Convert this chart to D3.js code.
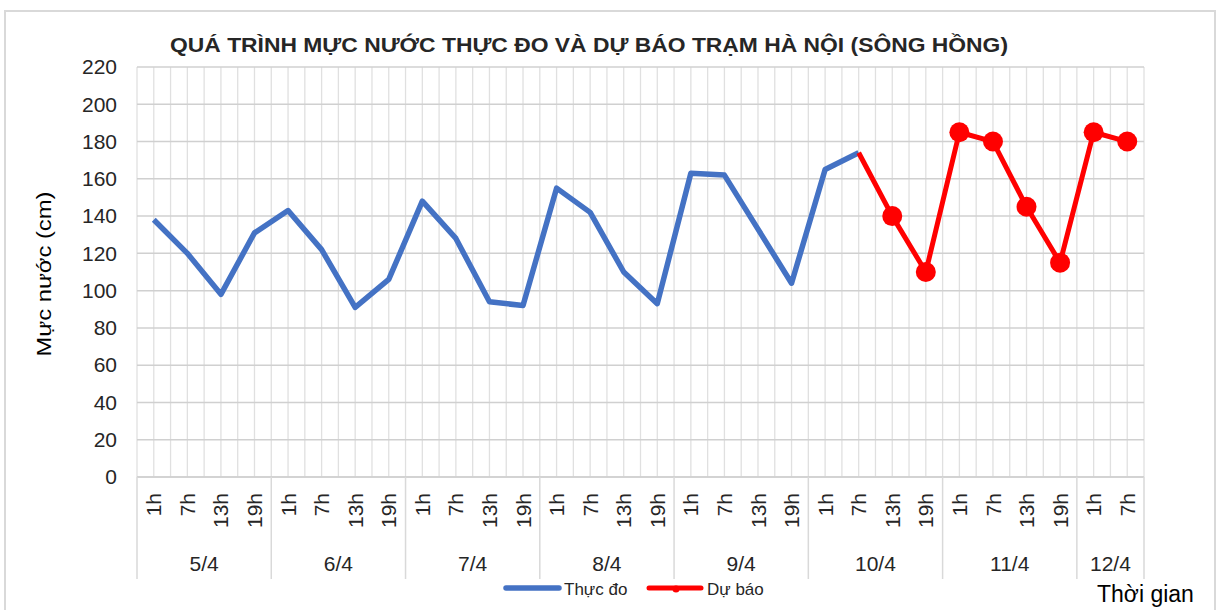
<!DOCTYPE html>
<html><head><meta charset="utf-8">
<script src="https://cdn.jsdelivr.net/npm/d3@7"></script>
<style>
html,body{margin:0;padding:0;background:#fff;}
svg{display:block;font-family:"Liberation Sans","Noto Sans",sans-serif;}
</style></head>
<body>
<svg id="chart" width="1217" height="610"></svg>
<script>
// ---- data ----
const hourLabels = ["1h","7h","13h","19h","1h","7h","13h","19h","1h","7h","13h","19h",
  "1h","7h","13h","19h","1h","7h","13h","19h","1h","7h","13h","19h","1h","7h","13h","19h","1h","7h"];
const dayLabels = ["5/4","6/4","7/4","8/4","9/4","10/4","11/4","12/4"];
const daySizes = [4,4,4,4,4,4,4,2];
const observed = [138,120,98,131,143,122,91,106,148,128,94,92,155,142,110,93,163,162,133,104,165,174];
const forecast = [null,null,null,null,null,null,null,null,null,null,null,null,null,null,null,null,
  null,null,null,null,null,174,140,110,185,180,145,115,185,180];
const yTicks = [0,20,40,60,80,100,120,140,160,180,200,220];
const titleText = "QUÁ TRÌNH MỰC NƯỚC THỰC ĐO VÀ DỰ BÁO TRẠM HÀ NỘI (SÔNG HỒNG)";
const yTitle = "Mực nước (cm)";
const xTitle = "Thời gian";
const seriesNames = ["Thực đo","Dự báo"];

// ---- layout ----
const svg = d3.select("#chart");
const L = 137, R = 1144, T = 67, B = 477;
const idx = d3.range(hourLabels.length);
const x = d3.scaleBand().domain(idx).range([L, R]).padding(0);
const bw = x.bandwidth();
const cx = i => x(i) + bw / 2;
const y = d3.scaleLinear().domain([0, 220]).range([B, T]);

// outer chart border
svg.append("rect").attr("x", 5).attr("y", 11).attr("width", 1210).attr("height", 620)
  .attr("fill", "none").attr("stroke", "#d9d9d9").attr("stroke-width", 2);

// vertical gridlines (category boundaries and centers)
const vLines = [];
idx.forEach(i => { vLines.push(x(i)); vLines.push(cx(i)); });
vLines.push(R);
svg.append("g").selectAll("line").data(vLines).join("line")
  .attr("x1", d => d).attr("x2", d => d).attr("y1", T).attr("y2", B)
  .attr("stroke", "#e0e0e0").attr("stroke-width", 1.3);

// horizontal gridlines
svg.append("g").selectAll("line").data(yTicks).join("line")
  .attr("x1", L).attr("x2", R).attr("y1", d => y(d)).attr("y2", d => y(d))
  .attr("stroke", "#d0d0d0").attr("stroke-width", 1.5);

// y axis labels
const yAxis = svg.append("g").attr("transform", `translate(${L},0)`)
  .call(d3.axisLeft(y).tickValues(yTicks).tickSize(0).tickPadding(20));
yAxis.select(".domain").remove();
yAxis.selectAll("text").attr("font-size", 21).attr("fill", "#262626")
  .attr("font-family", "Liberation Sans, sans-serif");

// x axis line
svg.append("line").attr("x1", L).attr("x2", R).attr("y1", B).attr("y2", B)
  .attr("stroke", "#d0d0d0").attr("stroke-width", 1.5);

// hour labels (rotated)
const xAxis = svg.append("g").attr("transform", `translate(0,${B})`)
  .call(d3.axisBottom(x).tickSize(0).tickFormat(i => hourLabels[i]));
xAxis.select(".domain").remove();
xAxis.selectAll("text")
  .attr("font-size", 21).attr("fill", "#262626").attr("font-family", "Liberation Sans, sans-serif")
  .attr("text-anchor", "end").attr("transform", "rotate(-90)")
  .attr("x", -16).attr("y", 0).attr("dy", "0.36em");

// day separators and labels
let start = 0;
const seps = [L];
const dayCenters = [];
daySizes.forEach((n, k) => {
  const x0 = x(start), x1 = x(start + n - 1) + bw;
  dayCenters.push({label: dayLabels[k], c: (x0 + x1) / 2});
  seps.push(x1);
  start += n;
});
svg.append("g").selectAll("line").data(seps).join("line")
  .attr("x1", d => d).attr("x2", d => d).attr("y1", B).attr("y2", 579)
  .attr("stroke", "#d9d9d9").attr("stroke-width", 1.5);
svg.append("g").selectAll("text").data(dayCenters).join("text")
  .attr("x", d => d.c).attr("y", 571).attr("text-anchor", "middle")
  .attr("font-size", 21).attr("fill", "#262626").text(d => d.label);

// lines
const lineObs = d3.line().x((d, i) => cx(i)).y(d => y(d));
svg.append("path").datum(observed).attr("d", lineObs)
  .attr("fill", "none").attr("stroke", "#4472C4").attr("stroke-width", 5.5)
  .attr("stroke-linejoin", "round");
const fData = forecast.map((v, i) => ({v, i})).filter(d => d.v !== null);
const lineF = d3.line().x(d => cx(d.i)).y(d => y(d.v));
svg.append("path").datum(fData).attr("d", lineF)
  .attr("fill", "none").attr("stroke", "#FF0000").attr("stroke-width", 5)
  .attr("stroke-linejoin", "round");
svg.append("g").selectAll("circle").data(fData.slice(1)).join("circle")
  .attr("cx", d => cx(d.i)).attr("cy", d => y(d.v)).attr("r", 10).attr("fill", "#FF0000");

// title
svg.append("text").attr("x", 589).attr("y", 52).attr("text-anchor", "middle")
  .attr("font-size", 20).attr("font-weight", "bold").attr("fill", "#262626")
  .attr("textLength", 838).attr("lengthAdjust", "spacingAndGlyphs").text(titleText);

// y title
svg.append("text").attr("transform", "translate(51,274) rotate(-90)")
  .attr("text-anchor", "middle").attr("font-size", 21).attr("fill", "#000")
  .attr("textLength", 165).attr("lengthAdjust", "spacingAndGlyphs").text(yTitle);

// x title
svg.append("text").attr("x", 1097).attr("y", 602).attr("font-size", 23).attr("fill", "#000")
  .text(xTitle);

// legend
const lg = svg.append("g");
lg.append("line").attr("x1", 506).attr("x2", 559).attr("y1", 588).attr("y2", 588)
  .attr("stroke", "#4472C4").attr("stroke-width", 5.5).attr("stroke-linecap", "round");
lg.append("text").attr("x", 564).attr("y", 595).attr("font-size", 17).attr("fill", "#262626")
  .text(seriesNames[0]);
lg.append("line").attr("x1", 649).attr("x2", 701).attr("y1", 588).attr("y2", 588)
  .attr("stroke", "#FF0000").attr("stroke-width", 5).attr("stroke-linecap", "round");
lg.append("circle").attr("cx", 676).attr("cy", 589).attr("r", 3.5).attr("fill", "#FF0000");
lg.append("text").attr("x", 707).attr("y", 595).attr("font-size", 17).attr("fill", "#262626")
  .text(seriesNames[1]);
</script>
</body></html>
